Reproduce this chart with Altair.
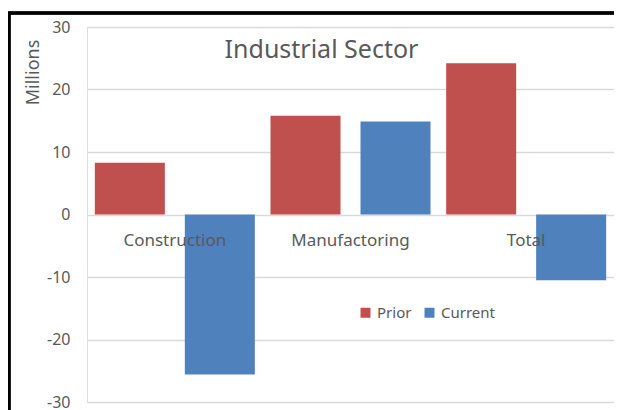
import altair as alt
import pandas as pd

categories = ["Construction", "Manufactoring", "Total"]
series_names = ["Prior", "Current"]
prior = [8.3, 15.8, 24.2]
current = [-25.6, 14.9, -10.5]
y_ticks = [-30, -20, -10, 0, 10, 20, 30]

rows = []
for c, p, q in zip(categories, prior, current):
    rows.append({"category": c, "series": "Prior", "value": p})
    rows.append({"category": c, "series": "Current", "value": q})
df = pd.DataFrame(rows)
cat_df = pd.DataFrame({"category": categories, "zero": [0] * len(categories)})

FONT = "Noto Sans"
GRAY = "#595959"

x_enc = alt.X("category:N", sort=categories, axis=None,
              scale=alt.Scale(paddingInner=0, paddingOuter=0))
y_scale = alt.Scale(domain=[-30, 30], nice=False)

bars = alt.Chart(df).mark_bar().encode(
    x=x_enc,
    xOffset=alt.XOffset("series:N", sort=series_names,
                        scale=alt.Scale(paddingInner=0.222, paddingOuter=0.087)),
    y=alt.Y("value:Q", scale=y_scale,
            axis=alt.Axis(values=y_ticks, title="Millions", domain=False, ticks=False,
                          labelExpr="'' + datum.value",
                          labelPadding=17, labelFontSize=16, labelColor=GRAY, labelFont=FONT,
                          gridColor="#D9D9D9", gridWidth=1.5,
                          titleFont=FONT, titleFontSize=18, titleFontWeight="normal",
                          titleColor=GRAY, titleAngle=-90, titleX=-54, titleY=45,
                          titleAlign="center", titleBaseline="middle")),
    color=alt.Color("series:N", sort=series_names,
                    scale=alt.Scale(domain=series_names, range=["#C0504D", "#4F81BD"]),
                    legend=alt.Legend(title=None, orient="none", direction="horizontal",
                                      legendX=271, legendY=278, symbolType="square",
                                      symbolSize=100, symbolStrokeWidth=0, labelFontSize=15,
                                      labelFont=FONT, labelColor=GRAY, labelOffset=4,
                                      columnPadding=10)),
)

labels = alt.Chart(cat_df).mark_text(dy=26, fontSize=17, font=FONT, color=GRAY).encode(
    x=x_enc,
    y=alt.Y("zero:Q", scale=y_scale),
    text="category:N",
)

frame_left = alt.Chart(cat_df).mark_rule(color="black", strokeWidth=3).encode(
    x=alt.value(-78), y=alt.value(-14), y2=alt.value(383))
frame_top = alt.Chart(cat_df).mark_rule(color="black", strokeWidth=3).encode(
    x=alt.value(-79.5), x2=alt.value(530), y=alt.value(-14))

chart = alt.layer(bars, labels, frame_left, frame_top).properties(
    width=527, height=375,
    padding={"left": 79, "top": 19, "right": 0, "bottom": 8},
    autosize=alt.AutoSizeParams(type="none"),
    title=alt.TitleParams("Industrial Sector", font=FONT, fontSize=25, fontWeight="normal",
                          color=GRAY, anchor="middle", dx=-29, offset=0, dy=63,
                          baseline="middle"),
).configure_view(stroke=None).configure(background="white")

chart.save("out.html", embed_options={"renderer": "svg", "actions": False})
